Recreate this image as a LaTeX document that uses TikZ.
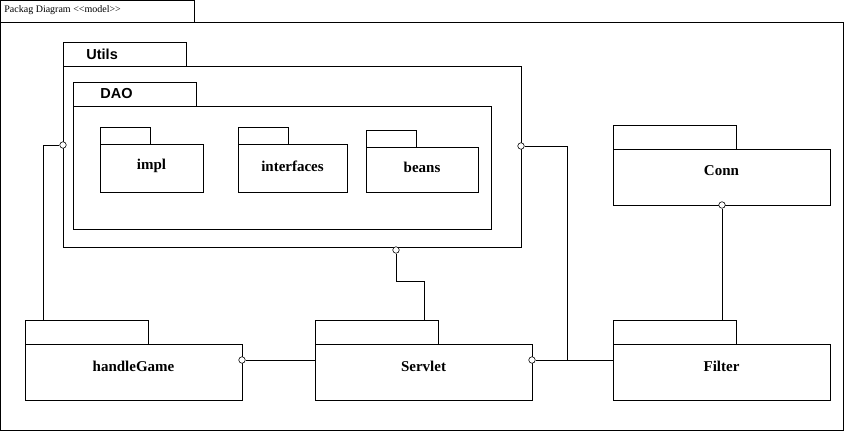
\documentclass[tikz,border=0pt]{standalone}
\usepackage{fontspec}
\setmainfont{Liberation Serif}
\newfontfamily\arialfont{Liberation Sans}
\usetikzlibrary{calc, positioning}

\begin{document}
\begin{tikzpicture}[x=1pt, y=-1pt, line width=0.8pt]%
        \tikzstyle{box} = [draw, anchor=north west, inner sep=0pt, outer sep=0pt]
        \tikzstyle{ball} = [draw, circle, fill=white, line width=0.6pt, inner sep=0pt, minimum size=6.5pt]
        \tikzstyle{pkglabel} = [font=\fontsize{15}{18}\selectfont\bfseries]
        \tikzstyle{tablabel} = [font=\arialfont\fontsize{14.5}{17}\selectfont\bfseries, anchor=west, inner sep=0pt]

        \useasboundingbox (0,0) rectangle (844,431);

        % frame
        \node[box, minimum width=194, minimum height=22] (frametab) at (0.5,0.5) {};
        \node[box, minimum width=842.5, minimum height=408] (frame) at (0.5,22.5) {};
        \node[anchor=west, inner sep=0pt, font=\fontsize{10}{12}\selectfont] (title) at (4,10) {Packag Diagram <\kern0pt<model>\kern0pt>};

        % Utils and DAO
        \node[box, minimum width=123, minimum height=24] (Utilstab) at (63,42) {};
        \node[box, minimum width=458, minimum height=181] (Utils) at (63,66) {};
        \node[tablabel] (Utilslabel) at ($(Utilstab.west)+(23,0)$) {Utils};
        \node[box, minimum width=123, minimum height=24] (DAOtab) at (73,82) {};
        \node[box, minimum width=418, minimum height=123] (DAO) at (73,106) {};
        \node[tablabel] (DAOlabel) at ($(DAOtab.west)+(27,0)$) {DAO};

        \foreach \name/\x/\y/\tw/\th/\w/\h/\dy in {impl/100/127/50/17/103/48/2,
            interfaces/238/127/50/17/109/48/2, beans/366/130/50/17/112/45/2.5,
            Conn/613/125/123/24/217/56/6, handleGame/25/320/123/24/217/56/6,
            Servlet/315/320/123/24/217/56/6, Filter/613/320/123/24/217/56/6}{
          \node[box, minimum width=\tw, minimum height=\th] (\name tab) at (\x,\y) {};
          \node[box, minimum width=\w, minimum height=\h] (\name) at (\x,\y+\th) {};
          \node[pkglabel] (\name label) at ($(\name.center)-(0,\dy)$) {\name};
        }

        % connectors
        \coordinate (junction) at (567,360);
        \node[ball] (utilsW) at (Utils.west |- 0,145) {};
        \node[ball] (utilsE) at (Utils.east |- 0,146) {};
        \node[ball] (utilsS) at ($(Utils.south -| 396,0)+(0,3)$) {};
        \node[ball] (connS) at (Conn.south -| 722,0) {};
        \node[ball] (gameE) at (handleGame.east |- 0,360) {};
        \node[ball] (servletE) at (Servlet.east |- 0,360) {};

        \draw (utilsW) -| ($(handleGametab.north west)+(18,0)$);
        \draw (utilsE) -| (junction);
        \draw (utilsS) -- ++(0,31) -| ($(Servlettab.north west)+(109,0)$);
        \draw (connS) -- (Filtertab.north -| connS);
        \draw (gameE) -- (Servlet.west |- gameE);
        \draw (servletE) -- (Filter.west |- servletE);
      \end{tikzpicture}
\end{document}
